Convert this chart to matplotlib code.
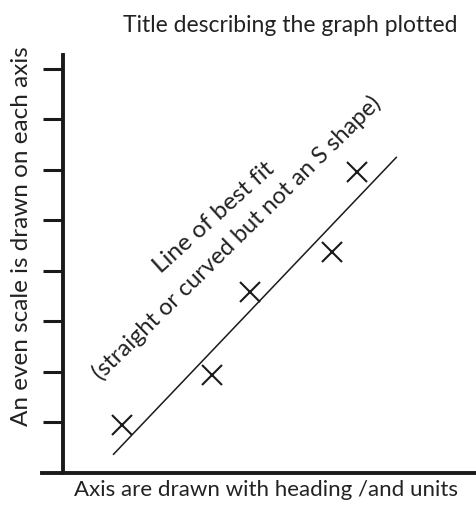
import matplotlib
matplotlib.use("Agg")
import matplotlib.pyplot as plt

# Data
x_points = [1.17, 2.95, 3.70, 5.33, 5.82]
y_points = [0.95, 1.94, 3.58, 4.38, 5.96]
fit_x = [0.99, 6.61]
fit_y = [0.36, 6.26]
y_ticks = [1, 2, 3, 4, 5, 6, 7, 8]

title = "Title describing the graph plotted"
xlabel = "Axis are drawn with heading /and units"
ylabel = "An even scale is drawn on each axis"
note1 = "Line of best fit"
note2 = "(straight or curved but not an S shape)"

plt.rcParams['font.family'] = ['Lato', 'DejaVu Sans']

W, H = 476, 513
fig = plt.figure(figsize=(W / 100, H / 100), dpi=100)
fig.patch.set_facecolor('white')
ax = fig.add_axes([42 / W, 40 / H, 434 / W, 418 / H])
ax.set_facecolor('none')

ax.set_xlim(-0.416, 8.178)
ax.set_ylim(0, 8.277)

for s in ['top', 'right']:
    ax.spines[s].set_visible(False)
ax.spines['left'].set_position(('data', 0))
ax.spines['left'].set_linewidth(2.8)
ax.spines['bottom'].set_linewidth(2.8)
ax.spines['left'].set_color('#1a1a1a')
ax.spines['bottom'].set_color('#1a1a1a')

ax.set_xticks([])
ax.set_yticks(y_ticks)
ax.set_yticklabels([])
ax.tick_params(axis='y', direction='out', length=14.5, width=2.2, color='#1a1a1a')

ax.plot(fit_x, fit_y, color='#1a1a1a', lw=1.1, solid_capstyle='butt')
ax.plot(x_points, y_points, linestyle='none', marker='x', markersize=14,
        markeredgewidth=1.5, color='#1a1a1a')

text_color = '#222222'
fig.text(290 / W, 1 - 25 / H, title, ha='center', va='center', fontsize=16.5, color=text_color)
fig.text(266 / W, 1 - 490 / H, xlabel, ha='center', va='center', fontsize=16, color=text_color)
fig.text(22 / W, 1 - 236 / H, ylabel, ha='center', va='center', rotation=90, fontsize=17.5, color=text_color)

# annotations placed in pixel positions converted to data
def px2data(px, py):
    return ((px - 63) / 50.5, (473 - py) / 50.5)

tx, ty = px2data(214, 218)
ax.text(tx, ty, note1, ha='center', va='center', rotation=42, fontsize=17.5,
        color=text_color, rotation_mode='anchor')
tx, ty = px2data(237, 238)
ax.text(tx, ty, note2, ha='center', va='center', rotation=44.5, fontsize=17,
        color=text_color, rotation_mode='anchor')

fig.savefig('out.png', dpi=100, facecolor='white')
